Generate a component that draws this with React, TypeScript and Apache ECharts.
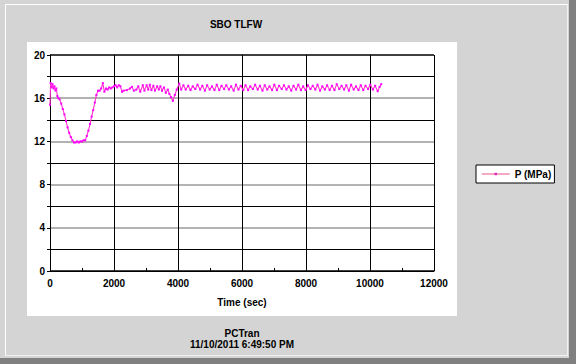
import React, { useEffect, useRef } from "react";
import * as echarts from "echarts";

const titleText = "SBO TLFW";
const seriesName = "P (MPa)";
const xAxisName = "Time (sec)";
const footerLines = ["PCTran", "11/10/2011 6:49:50 PM"];

const xTicks = { min: 0, max: 12000, interval: 2000 };
const yTicks = { min: 0, max: 20, interval: 4 };

const timeSec = [
  0, 20, 50, 80, 110, 140, 170, 200, 230, 260, 300, 350, 400, 450, 500, 550, 600, 650, 700, 750,
  800, 850, 900, 950, 1000, 1050, 1100, 1150, 1200, 1250, 1300, 1350, 1400, 1450, 1500, 1550, 1600, 1650, 1700, 1750,
  1800, 1850, 1900, 1950, 2000, 2050, 2100, 2150, 2200, 2250, 2300, 2400, 2500, 2560, 2620, 2700, 2760, 2820, 2900, 2950,
  3020, 3070, 3120, 3170, 3230, 3280, 3350, 3400, 3450, 3500, 3560, 3620, 3680, 3730, 3780, 3840, 3900, 3960, 4040,
  4100, 4170, 4240, 4320, 4390, 4460, 4540, 4610, 4690, 4760, 4840, 4910, 4990, 5060, 5140, 5210, 5290, 5360, 5440, 5510,
  5590, 5660, 5740, 5810, 5890, 5960, 6040, 6110, 6190, 6260, 6340, 6410, 6490, 6560, 6640, 6710, 6790, 6860, 6940, 7010,
  7090, 7160, 7240, 7310, 7390, 7460, 7540, 7610, 7690, 7760, 7840, 7910, 7990, 8060, 8140, 8210, 8290, 8360, 8440, 8510,
  8590, 8660, 8740, 8810, 8890, 8960, 9040, 9110, 9190, 9260, 9340, 9410, 9490, 9560, 9640, 9710, 9790, 9860, 9940, 10010,
  10090, 10160, 10240, 10300, 10350,
];

const pressureMPa = [
  15.4, 17.4, 17.0, 17.3, 16.9, 17.1, 16.7, 16.9, 16.2, 16.0, 15.9, 15.5, 15.0, 14.5, 13.9, 13.3, 12.8, 12.4, 12.1, 11.9,
  11.9, 12.0, 11.9, 12.0, 12.0, 12.1, 12.1, 12.5, 13.0, 13.6, 14.3, 14.9, 15.6, 16.3, 16.7, 16.7, 16.9, 17.4, 16.6, 16.9,
  16.8, 17.0, 16.9, 17.0, 17.1, 17.2, 17.0, 17.2, 17.1, 16.6, 16.7, 16.75, 16.9, 17.05, 16.7, 16.8, 17.1, 16.6, 17.2, 16.7,
  17.2, 16.8, 17.25, 16.75, 17.15, 16.7, 17.1, 16.8, 17.1, 16.7, 17.0, 16.5, 16.8, 16.4, 16.1, 15.75, 16.3, 16.8, 17.35,
  16.8, 17.2, 16.8, 17.15, 16.75, 17.1, 16.85, 17.25, 16.8, 17.15, 16.7, 17.2, 16.8, 17.1, 16.75, 17.25, 16.75, 17.15, 16.85, 17.2,
  16.8, 17.1, 16.7, 17.25, 16.8, 17.15, 16.75, 17.2, 16.75, 17.1, 16.85, 17.25, 16.8, 17.15, 16.7, 17.2, 16.8, 17.1, 16.75, 17.25,
  16.75, 17.15, 16.85, 17.2, 16.8, 17.1, 16.7, 17.15, 16.8, 17.25, 16.75, 17.1, 16.75, 17.2, 16.85, 17.15, 16.8, 17.25, 16.7, 17.1,
  16.8, 17.2, 16.75, 17.15, 16.75, 17.3, 16.85, 17.15, 16.8, 17.2, 16.7, 17.25, 16.8, 17.1, 16.75, 17.2, 16.75, 17.15, 16.85, 17.25,
  16.8, 17.15, 16.65, 17.05, 17.3,
];

export default function App() {
  const ref = useRef<HTMLDivElement>(null);
  useEffect(() => {
    if (!ref.current) return;
    const chart = echarts.init(ref.current, null, { renderer: "svg" });
    const font = "'Liberation Sans', Arial, sans-serif";
    const data = timeSec.map((t, i) => [t, pressureMPa[i]]);
    chart.setOption({
      animation: false,
      backgroundColor: "#d4d4d4",
      textStyle: { fontFamily: font },
      graphic: [
        { type: "rect", z: -20, silent: true, shape: { x: 0, y: 0, width: 576, height: 364 }, style: { fill: "#d4d4d4" } },
        { type: "line", z: -19, silent: true, shape: { x1: 5.5, y1: 4, x2: 5.5, y2: 356 }, style: { stroke: "#ffffff", lineWidth: 1 } },
        { type: "line", z: -19, silent: true, shape: { x1: 5, y1: 4.5, x2: 568, y2: 4.5 }, style: { stroke: "#ffffff", lineWidth: 1 } },
        { type: "line", z: -19, silent: true, shape: { x1: 5, y1: 355.5, x2: 568, y2: 355.5 }, style: { stroke: "#f2f2f2", lineWidth: 1 } },
        { type: "line", z: -19, silent: true, shape: { x1: 567.5, y1: 4, x2: 567.5, y2: 356 }, style: { stroke: "#f2f2f2", lineWidth: 1 } },
        { type: "rect", z: -19, silent: true, shape: { x: 569, y: 0, width: 7, height: 364 }, style: { fill: "#808080" } },
        { type: "rect", z: -19, silent: true, shape: { x: 0, y: 358, width: 576, height: 6 }, style: { fill: "#808080" } },
        { type: "rect", z: -18, silent: true, shape: { x: 27, y: 42, width: 430, height: 274 }, style: { fill: "#ffffff" } },
        {
          type: "text", z: 5, silent: true, x: 236, y: 24,
          style: { text: titleText, fill: "#000", font: `bold 10px ${font}`, textAlign: "center", textVerticalAlign: "middle" },
        },
        {
          type: "text", z: 5, silent: true, x: 242, y: 333,
          style: { text: footerLines[0], fill: "#000", font: `bold 10px ${font}`, textAlign: "center", textVerticalAlign: "middle" },
        },
        {
          type: "text", z: 5, silent: true, x: 242, y: 344,
          style: { text: footerLines[1], fill: "#000", font: `bold 10px ${font}`, textAlign: "center", textVerticalAlign: "middle" },
        },
      ],
      legend: {
        left: 476,
        top: 165,
        orient: "vertical",
        itemWidth: 28,
        itemHeight: 3,
        itemGap: 4,
        itemTextGap: 8,
        padding: [4, 3, 4, 5],
        backgroundColor: "#ffffff",
        borderColor: "#000000",
        borderWidth: 1,
        borderRadius: 0,
        lineStyle: { color: "#f28cb4", width: 1.5 },
        itemStyle: { color: "#e020c0" },
        textStyle: { fontFamily: font, fontSize: 10, fontWeight: "bold", color: "#000" },
        data: [seriesName],
      },
      grid: { left: 50, right: 142, top: 55, bottom: 93, containLabel: false },
      xAxis: {
        type: "value",
        min: xTicks.min,
        max: xTicks.max,
        interval: xTicks.interval,
        name: xAxisName,
        nameLocation: "middle",
        nameGap: 26,
        nameTextStyle: { fontFamily: font, fontSize: 10, fontWeight: "bold", color: "#000" },
        axisLine: { show: true, lineStyle: { color: "#000", width: 1 } },
        axisTick: { show: true, inside: true, length: 3, lineStyle: { color: "#000" } },
        minorTick: { show: true, splitNumber: 2, length: 3, lineStyle: { color: "#000" } },
        axisLabel: {
          fontFamily: font, fontSize: 10, fontWeight: "bold", color: "#000", margin: 7,
          formatter: (v: number) => String(v),
        },
        splitLine: { show: true, lineStyle: { color: "#000", width: 1 } },
      },
      yAxis: {
        type: "value",
        min: yTicks.min,
        max: yTicks.max,
        interval: yTicks.interval,
        axisLine: { show: true, lineStyle: { color: "#000", width: 1 } },
        axisTick: { show: true, inside: false, length: 3, lineStyle: { color: "#000" } },
        minorTick: { show: true, splitNumber: 2, length: 3, lineStyle: { color: "#000" } },
        axisLabel: {
          fontFamily: font, fontSize: 10, fontWeight: "bold", color: "#000", margin: 5,
          formatter: (v: number) => String(v),
        },
        splitLine: {
          show: true,
          lineStyle: { color: ["#000", "#9a9a9a", "#9a9a9a", "#9a9a9a", "#9a9a9a", "#000"], width: 1.6 },
        },
        minorSplitLine: { show: true, lineStyle: { color: "#000", width: 1 } },
      },
      series: [
        {
          name: seriesName,
          type: "line",
          data,
          showSymbol: true,
          symbol: "rect",
          symbolSize: 2,
          itemStyle: { color: "#ff00ff" },
          lineStyle: { color: "#ff33cc", width: 1.1 },
        },
      ],
    });
    return () => chart.dispose();
  }, []);
  return <div ref={ref} style={{ position: "fixed", left: 0, top: 0, width: 576, height: 364 }} />;
}
